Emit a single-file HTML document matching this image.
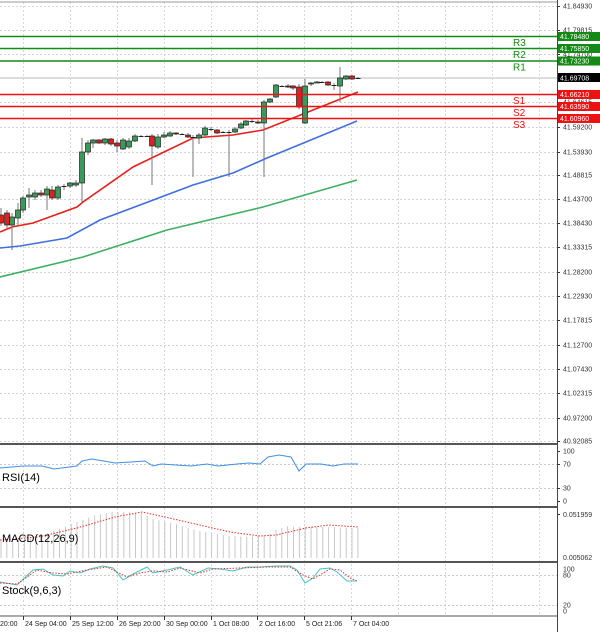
<!DOCTYPE html>
<html><head><meta charset="utf-8"><style>
html,body{margin:0;padding:0;background:#fff;}
svg{display:block;font-family:"Liberation Sans",sans-serif;}
</style></head><body>
<svg id="s" width="600" height="632" xmlns="http://www.w3.org/2000/svg"></svg>
<script>
var s=document.getElementById('s');var h='';
function L(x1,y1,x2,y2,c,w,d){h+='<line x1="'+x1+'" y1="'+y1+'" x2="'+x2+'" y2="'+y2+'" stroke="'+c+'" stroke-width="'+(w||1)+'"'+(d?' stroke-dasharray="'+d+'"':'')+'/>';}
function R(x,y,w,hh,f,st){h+='<rect x="'+x+'" y="'+y+'" width="'+w+'" height="'+hh+'" fill="'+f+'"'+(st?' stroke="'+st+'" stroke-width="0.7"':'')+'/>';}
function T(x,y,t,c,sz,a){h+='<text x="'+x+'" y="'+y+'" fill="'+c+'" font-size="'+sz+'"'+(a?' text-anchor="'+a+'"':'')+'>'+t+'</text>';}
function P(pts,c,w,d){h+='<polyline fill="none" points="'+pts.map(function(p){return p[0]+','+p[1]}).join(' ')+'" stroke="'+c+'" stroke-width="'+w+'"'+(d?' stroke-dasharray="'+d+'"':'')+'/>';}
var AX=557;
var gx=[23,70,117,164,211,257,304,351,398,445,492,539];
var panels=[[2,443],[446,506],[508,561],[564,615]];
panels.forEach(function(p){gx.forEach(function(x){L(x+.5,p[0],x+.5,p[1],'#c8c8c8',0.7,'2,2');});});
var pl=[['41.84930',6],['41.79815',30],['41.74700',54],['41.64615',102],['41.59200',127],['41.53930',152],['41.48815',175],['41.43700',199],['41.38430',223],['41.33315',247],['41.28200',272],['41.22930',296],['41.17815',320],['41.12700',345],['41.07430',369],['41.02315',393],['40.97200',418],['40.92085',441]];
pl.forEach(function(p){L(0,p[1]+.5,AX,p[1]+.5,'#c8c8c8',0.7,'2,2');L(AX,p[1]+.5,AX+3,p[1]+.5,'#333',1);T(563,p[1]+2.5,p[0],'#333',7);});
L(0,78,AX,78,'#d0d0d0',1.5);
P([[0,277],[83,257],[167,230],[263,207],[357,180]],'#3cb060',1.6);
P([[0,248],[20,246],[67,238],[100,220],[193,185],[233,173],[267,158],[357,121]],'#3f6fe0',1.6);
P([[0,232],[12,227],[33,223],[77,207],[83,202],[133,167],[193,138],[233,135],[263,130],[333,102],[358,92]],'#e8201a',1.6);
var c=[[1,215,223,208,226],[7,213,225,210,228],[12,225,217,213,250],[18,218,210,203,225],[23,210,198,196,213],[29,197,195,188,208],[35,197,193,190,200],[41,193,195,190,197],[47,195,189,186,210],[52,190,198,186,200],[58,198,187,185,200],[64,186,186,184,190],[70,186,183,182,188],[76,185,183,180,187],[82,183,152,138,202],[88,152,143,140,155],[93,143,140,139,148],[99,140,143,139,144],[105,143,139,138,145],[111,139,144,138,146],[117,143,146,140,152],[123,149,140,138,150],[129,147,141,138,149],[135,141,136,134,142],[141,136,136,135,137],[147,136,136,135,137],[152,136,146,134,185],[158,147,137,134,149],[164,137,135,132,138],[170,136,133,131,137],[176,133,134,132,135],[182,134,134,133,135],[188,135,137,133,138],[193,137,137,135,177],[199,138,135,133,144],[205,135,128,126,137],[211,129,129,127,131],[217,130,133,129,134],[223,132,132,131,133],[229,132,132,130,177],[235,132,129,127,133],[241,128,124,122,129],[246,125,121,120,126],[252,121,121,119,123],[258,122,123,120,124],[264,123,102,100,177],[270,102,99,98,103],[276,97,85,84,98],[282,86,86,85,87],[288,86,87,84,88],[293,86,88,85,90],[299,87,107,84,109],[305,123,86,79,124],[311,84,83,82,86],[317,83,82,81,83],[322,82,82,81,83],[328,82,85,81,86],[334,85,85,83,90],[340,86,78,67,102],[346,79,76,75,80],[352,76,79,75,80],[358,78,78,77,79]];
c.forEach(function(k){var x=k[0],o=k[1],cl=k[2];L(x,k[3],x,k[4],'#777',1);var up=cl<=o;var t=Math.min(o,cl),b=Math.max(o,cl);if(b-t<1){L(x-2.5,t+.5,x+2.5,t+.5,'#222',1);}else R(x-2.5,t,5,b-t,up?'#3a9a5c':'#e02020','#222');});
var lv=[['R3',36.5,'41.78480','#138a13'],['R2',48.5,'41.75850','#138a13'],['R1',61,'41.73230','#138a13'],['S1',94.5,'41.66210','#ee1111'],['S2',106.5,'41.63590','#ee1111'],['S3',118.5,'41.60960','#ee1111']];
lv.forEach(function(l){L(0,l[1],AX,l[1],l[3],1.5);R(AX,l[1]-4.5,43,9,l[3]);T(560,l[1]+2.7,l[2],'#fff',7);T(513,l[1]+9.5,l[0],l[3],10);});
R(AX,73,43,9,'#000');T(560,80.5,'41.69708','#fff',7);
[[451,'100'],[464,'70'],[488,'30'],[501,'0']].forEach(function(p){if(p[1]=='70'||p[1]=='30')L(0,p[0]+.5,AX,p[0]+.5,'#bbb',0.7,'2,2');L(AX,p[0]+.5,AX+3,p[0]+.5,'#333');T(563,p[0]+2.5,p[1],'#333',7);});
P([[0,468],[23,466],[42,466],[54,469],[77,466],[82,461],[92,459],[115,463],[145,461],[153,466],[161,464],[191,466],[207,464],[218,466],[237,464],[249,463],[260,464],[268,457],[279,455],[291,457],[299,471],[306,464],[321,464],[333,466],[344,464],[358,464]],'#3f8fe8',1);
T(2,481,'RSI(14)','#000',11);
var mb=[[0,540],[38,537],[77,522],[96,515],[111,512],[126,512],[142,513],[153,519],[172,523],[191,529],[210,533],[230,536],[249,537],[268,535],[276,530],[287,526],[298,527],[314,527],[325,527],[358,528]];
function interp(a,x){for(var i=1;i<a.length;i++){if(x<=a[i][0]){var t=(x-a[i-1][0])/(a[i][0]-a[i-1][0]);return a[i-1][1]+t*(a[i][1]-a[i-1][1]);}}return a[a.length-1][1];}
for(var x=1;x<=358;x+=5.85){L(x.toFixed(1),interp(mb,x).toFixed(1),x.toFixed(1),558,'#c8c8c8',1);}
P([[0,540],[38,537],[77,528],[115,517],[142,512],[165,517],[191,523],[230,532],[260,536],[276,535],[306,528],[329,525],[358,527]],'#e83030',1,'1.5,1.5');
L(AX,514.5,AX+3,514.5,'#333');T(563,517,'0.051959','#333',7);T(563,560,'0.005062','#333',7);
T(2,542,'MACD(12,26,9)','#000',11);
[[569,'100'],[575,'80'],[605,'20'],[611,'0']].forEach(function(p){if(p[1]=='80'||p[1]=='20')L(0,p[0]+.5,AX,p[0]+.5,'#bbb',0.7,'2,2');T(563,p[0]+2.5,p[1],'#333',7);});
var sc=[[0,582],[17,585],[33,570],[43,569],[53,575],[63,576],[70,571],[80,573],[90,569],[103,566],[113,568],[123,580],[133,574],[147,567],[153,573],[167,570],[180,567],[193,575],[208,568],[220,569],[233,571],[247,567],[260,567],[277,566],[290,566],[297,570],[305,583],[313,578],[320,569],[330,568],[337,572],[347,581],[357,581]];
var sr=[[0,583],[17,584],[27,577],[37,570],[53,573],[67,574],[87,570],[107,567],[127,577],[140,573],[153,571],[167,572],[180,568],[200,573],[213,569],[240,568],[267,567],[290,567],[303,575],[313,579],[320,575],[330,569],[340,570],[350,578],[357,581]];
P(sc,'#40c8c0',1);P(sr,'#e83030',1,'1.5,1.5');
T(2,594,'Stock(9,6,3)','#000',11);
[[444,2],[507,2],[562,2],[616,1]].forEach(function(p){L(0,p[0],AX,p[0],'#555',p[1]);});
L(AX+.5,0,AX+.5,632,'#444',1);
L(0,2,AX,2,'#999',1);
var tl=[[0,'20:00'],[23,'24 Sep 04:00'],[70,'25 Sep 12:00'],[117,'26 Sep 20:00'],[164,'30 Sep 00:00'],[211,'1 Oct 08:00'],[257,'2 Oct 16:00'],[304,'5 Oct 21:06'],[351,'7 Oct 04:00']];
tl.forEach(function(t){if(t[0]>0)L(t[0]+.5,616,t[0]+.5,620,'#333');T(t[0]+(t[0]>0?2:0),626,t[1],'#222',7);});
s.innerHTML=h;
</script>
</body></html>
